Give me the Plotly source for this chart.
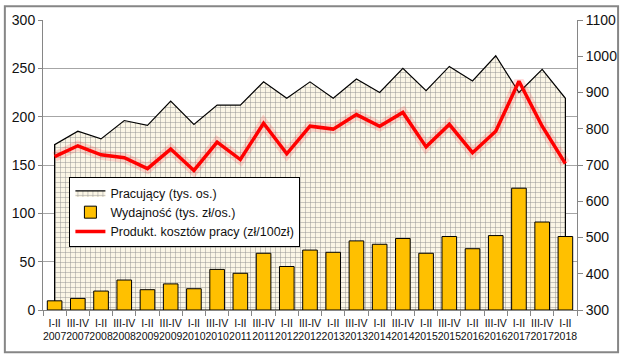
import plotly.graph_objects as go

categories = ["I-II<br>2007", "III-IV<br>2007", "I-II<br>2008", "III-IV<br>2008", "I-II<br>2009",
              "III-IV<br>2009", "I-II<br>2010", "III-IV<br>2010", "I-II<br>2011", "III-IV<br>2011",
              "I-II<br>2012", "III-IV<br>2012", "I-II<br>2013", "III-IV<br>2013", "I-II<br>2014",
              "III-IV<br>2014", "I-II<br>2015", "III-IV<br>2015", "I-II<br>2016", "III-IV<br>2016",
              "I-II<br>2017", "III-IV<br>2017", "I-II<br>2018"]

pracujacy = [171, 185, 177, 196, 191, 216, 192, 212, 212, 236, 219, 236,
             219, 239, 225, 250, 227, 252, 237, 263, 225, 249, 219]
wydajnosc = [9.5, 12, 19.6, 31, 21, 27, 22, 42, 38, 58.7, 45, 62,
             59.7, 71.5, 68, 74, 58.7, 76, 63.4, 77, 126, 91, 76]
produkt = [723, 753, 728, 720, 690, 744, 685, 763, 715, 815, 731, 807,
           799, 839, 807, 845, 750, 812, 734, 793, 931, 807, 704]

FONT = "Liberation Sans, Arial, sans-serif"

# closed outline of the area series (down to zero at both ends)
area_x = [categories[0]] + categories + [categories[-1], categories[0]]
area_y = [0] + pracujacy + [0, 0]

fig = go.Figure()

fig.add_trace(go.Scatter(
    x=area_x, y=area_y, name="Pracujący (tys. os.)",
    mode="lines", line=dict(color="black", width=1.2),
    fill="toself", fillcolor="#fbf6e6",
    fillpattern=dict(shape="+", size=5, solidity=0.18, fgcolor="#8f8f8f", bgcolor="#fbf6e6", fillmode="replace"),
    yaxis="y", xaxis="x"))

fig.add_trace(go.Bar(
    x=categories, y=wydajnosc, name="Wydajność (tys. zł/os.)",
    marker=dict(color="#FFC000", line=dict(color="black", width=1)),
    yaxis="y2"))

fig.add_trace(go.Scatter(
    x=categories, y=produkt, mode="lines", showlegend=False, hoverinfo="skip",
    line=dict(color="rgba(255,60,60,0.18)", width=10), yaxis="y3"))

fig.add_trace(go.Scatter(
    x=categories, y=produkt, name="Produkt. kosztów pracy (zł/100zł)",
    mode="lines", line=dict(color="#ff0000", width=3.5), yaxis="y3"))

L, R, T, B = 40, 43, 15, 44
W, H = 629, 354
pw, ph = W - L - R, H - T - B

fig.update_layout(
    width=W, height=H,
    margin=dict(l=L, r=R, t=T, b=B, pad=0),
    paper_bgcolor="white", plot_bgcolor="white",
    font=dict(family=FONT, size=13, color="#111111"),
    bargap=0.37,
    showlegend=True,
    legend=dict(x=(67 - L) / pw, y=(ph - (175 - T)) / ph, xanchor="left", yanchor="top",
                bgcolor="white", bordercolor="black", borderwidth=1,
                font=dict(family=FONT, size=12.5, color="#111111"),
                tracegroupgap=0, itemwidth=30),
    xaxis=dict(type="category", tickson="boundaries", ticks="outside", ticklen=5,
               tickcolor="#868686", showline=True, linecolor="#868686", linewidth=1,
               showgrid=False, tickfont=dict(size=10.5, family=FONT, color="#111111"), tickangle=0,
               ticklabelstandoff=3, range=[-0.5, 22.5]),
    yaxis=dict(range=[0, 300], dtick=50, showgrid=True, gridcolor="#a6a6a6", gridwidth=1,
               showline=True, linecolor="#868686", ticks="outside", ticklen=4, tickcolor="#868686",
               tickfont=dict(size=14, family=FONT), zeroline=False),
    yaxis2=dict(range=[0, 300], overlaying="y", visible=False),
    yaxis3=dict(range=[300, 1100], dtick=100, overlaying="y", side="right", showgrid=False,
                showline=True, linecolor="#868686", ticks="outside", ticklen=5, tickcolor="#868686",
                tickfont=dict(size=14, family=FONT), zeroline=False),
    shapes=[dict(type="rect", xref="paper", yref="paper",
                 x0=(1 - L) / pw, x1=(W - 1 - L) / pw,
                 y0=-(H - 1 - T - ph) / ph, y1=(ph + T - 1) / ph,
                 line=dict(color="#868686", width=2), fillcolor="rgba(0,0,0,0)", layer="above")],
)

fig.write_html("out.html")
